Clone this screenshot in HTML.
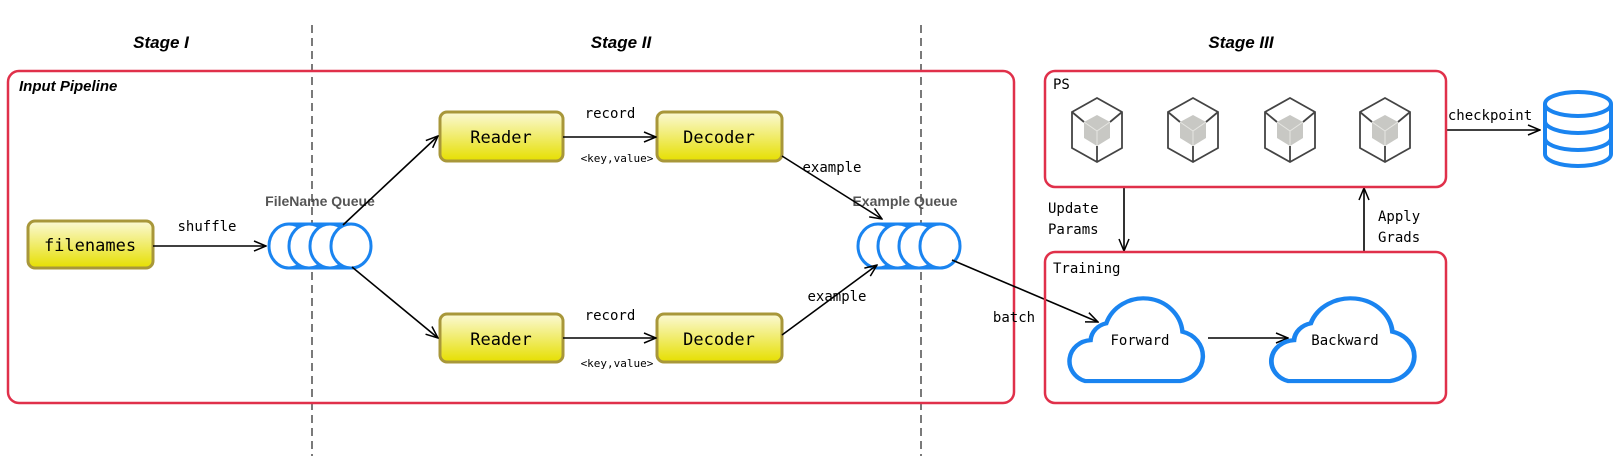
<!DOCTYPE html>
<html><head><meta charset="utf-8"><style>
html,body{margin:0;padding:0;background:#fff;}
svg{display:block;}
.m{font-family:"DejaVu Sans Mono","Liberation Mono",monospace;}
</style></head><body>
<svg width="1622" height="456" viewBox="0 0 1622 456" xmlns="http://www.w3.org/2000/svg">
<defs>
<marker id="a" markerWidth="14" markerHeight="12" refX="13" refY="6" orient="auto" markerUnits="userSpaceOnUse">
<path d="M1,1 L13,6 L1,11" fill="none" stroke="#000" stroke-width="1.5"/></marker>
<linearGradient id="y" x1="0" y1="0" x2="0" y2="1"><stop offset="0" stop-color="#fbf9d6"/><stop offset="1" stop-color="#e6df00"/></linearGradient>
<g id="cube">
<polygon points="0,-32 25,-18 25,18 0,32 -25,18 -25,-18" fill="#fff" stroke="#444" stroke-width="1.8"/>
<polygon points="0,-15 13,-8 13,8 0,16 -13,8 -13,-8" fill="#c8c8c4"/>
<path d="M0,1 L0,16 M0,1 L13,-8 M0,1 L-13,-8" stroke="#e6e6e2" stroke-width="1"/>
<path d="M-25,-18 L-13,-8 M25,-18 L13,-8 M0,32 L0,16" stroke="#444" stroke-width="1.8"/>
</g>
<path id="cloud" d="M25 81 H110 A24 24 0 0 0 112 34 A35 35 0 0 0 44 26 A18 18 0 0 0 30 42 A20 20 0 0 0 25 81 Z" fill="#fff" stroke="#1a84f0" stroke-width="4"/>
</defs>

<g font-family="Liberation Sans, sans-serif" font-weight="bold" font-style="italic" font-size="17" text-anchor="middle">
<text x="161" y="48">Stage I</text>
<text x="621" y="48">Stage II</text>
<text x="1241" y="48">Stage III</text>
</g>

<line x1="312" y1="25" x2="312" y2="456" stroke="#333" stroke-width="1.3" stroke-dasharray="8,5"/>
<line x1="921" y1="25" x2="921" y2="456" stroke="#333" stroke-width="1.3" stroke-dasharray="8,5"/>

<rect x="8" y="71" width="1006" height="332" rx="11" fill="none" stroke="#e0304a" stroke-width="2.5"/>
<text x="19" y="91" font-family="Liberation Sans, sans-serif" font-weight="bold" font-style="italic" font-size="15">Input Pipeline</text>

<g stroke="#a8973a" stroke-width="3" fill="url(#y)">
<rect x="28" y="221" width="125" height="47" rx="7"/>
<rect x="440" y="112" width="123" height="49" rx="7"/>
<rect x="657" y="112" width="125" height="49" rx="7"/>
<rect x="440" y="314" width="123" height="48" rx="7"/>
<rect x="657" y="314" width="125" height="48" rx="7"/>
</g>
<g class="m" font-size="17" text-anchor="middle">
<text x="90" y="251">filenames</text>
<text x="501" y="143">Reader</text>
<text x="719" y="143">Decoder</text>
<text x="501" y="345">Reader</text>
<text x="719" y="345">Decoder</text>
</g>

<g fill="#fff" stroke="#1a84f0" stroke-width="3">
<path d="M289 224 H350 M289 268 H350" fill="none"/>
<ellipse cx="289" cy="246" rx="20" ry="22"/>
<ellipse cx="309" cy="246" rx="20" ry="22"/>
<ellipse cx="330" cy="246" rx="20" ry="22"/>
<ellipse cx="351" cy="246" rx="20" ry="22"/>
<path d="M878 224 H940 M878 268 H940" fill="none"/>
<ellipse cx="878" cy="246" rx="20" ry="22"/>
<ellipse cx="898" cy="246" rx="20" ry="22"/>
<ellipse cx="919" cy="246" rx="20" ry="22"/>
<ellipse cx="940" cy="246" rx="20" ry="22"/>
</g>
<g font-family="Liberation Sans, sans-serif" font-weight="bold" font-size="14" fill="#555" text-anchor="middle">
<text x="320" y="206">FileName Queue</text>
<text x="905" y="206">Example Queue</text>
</g>

<g stroke="#000" stroke-width="1.6" fill="none" marker-end="url(#a)">
<line x1="153" y1="246" x2="266" y2="246"/>
<line x1="343" y1="225" x2="438" y2="136"/>
<line x1="352" y1="267" x2="438" y2="338"/>
<line x1="563" y1="137" x2="656" y2="137"/>
<line x1="563" y1="338" x2="656" y2="338"/>
<line x1="782" y1="156" x2="882" y2="219"/>
<line x1="782" y1="335" x2="877" y2="265"/>
<line x1="952" y1="260" x2="1098" y2="322"/>
<line x1="1124" y1="187" x2="1124" y2="251"/>
<line x1="1364" y1="252" x2="1364" y2="188"/>
<line x1="1446" y1="130" x2="1540" y2="130"/>
<line x1="1208" y1="338" x2="1288" y2="338"/>
</g>
<g class="m" font-size="14" text-anchor="middle">
<text x="207" y="231">shuffle</text>
<text x="610" y="118">record</text>
<text x="610" y="320">record</text>
<text x="832" y="172">example</text>
<text x="837" y="301">example</text>
<text x="1014" y="322">batch</text>
<text x="1490" y="120">checkpoint</text>
</g>
<g class="m" font-size="11" text-anchor="middle">
<text x="617" y="162">&lt;key,value&gt;</text>
<text x="617" y="367">&lt;key,value&gt;</text>
</g>

<rect x="1045" y="71" width="401" height="116" rx="10" fill="none" stroke="#e0304a" stroke-width="2.5"/>
<text class="m" x="1053" y="89" font-size="14">PS</text>
<use href="#cube" x="1097" y="130"/>
<use href="#cube" x="1193" y="130"/>
<use href="#cube" x="1290" y="130"/>
<use href="#cube" x="1385" y="130"/>

<g class="m" font-size="14">
<text x="1048" y="213">Update</text>
<text x="1048" y="234">Params</text>
<text x="1378" y="221">Apply</text>
<text x="1378" y="242">Grads</text>
</g>

<rect x="1045" y="252" width="401" height="151" rx="10" fill="none" stroke="#e0304a" stroke-width="2.5"/>
<text class="m" x="1053" y="273" font-size="14">Training</text>
<use href="#cloud" transform="translate(1057,296) scale(1.12,1.05)"/>
<use href="#cloud" transform="translate(1258,296) scale(1.2,1.05)"/>
<g class="m" font-size="14" text-anchor="middle">
<text x="1140" y="345">Forward</text>
<text x="1345" y="345">Backward</text>
</g>

<g fill="#fff" stroke="#1a84f0" stroke-width="4">
<path d="M1545 104 V154 A33 12 0 0 0 1611 154 V104"/>
<path d="M1545 121 A33 12 0 0 0 1611 121 M1545 138 A33 12 0 0 0 1611 138" fill="none"/>
<ellipse cx="1578" cy="104" rx="33" ry="12"/>
</g>
</svg>
</body></html>
